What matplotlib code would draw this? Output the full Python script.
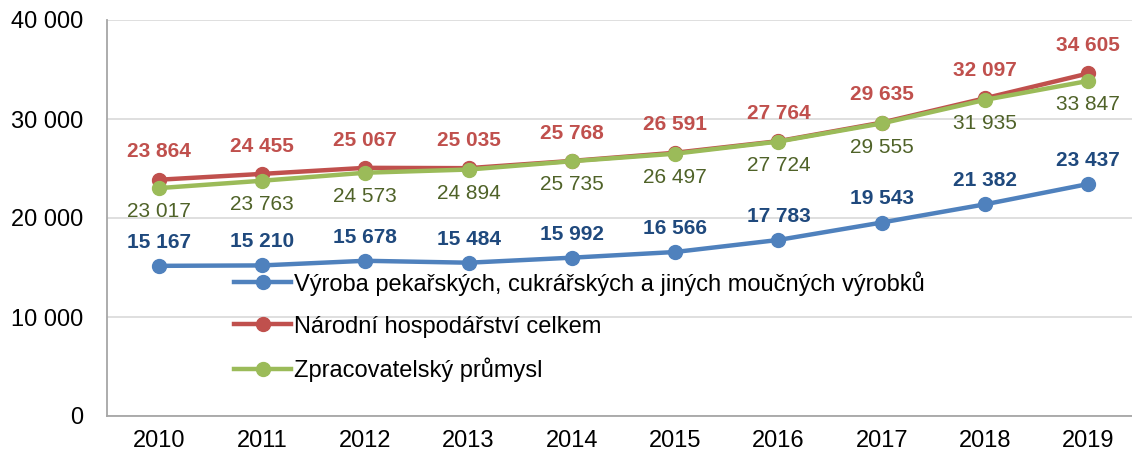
import numpy as np
import matplotlib.pyplot as plt
from matplotlib.ticker import FuncFormatter

plt.rcParams['font.family'] = ['Liberation Sans', 'DejaVu Sans']

years = ['2010', '2011', '2012', '2013', '2014', '2015', '2016', '2017', '2018', '2019']
pekarstvi = [15167, 15210, 15678, 15484, 15992, 16566, 17783, 19543, 21382, 23437]
narodni = [23864, 24455, 25067, 25035, 25768, 26591, 27764, 29635, 32097, 34605]
zpracovatelsky = [23017, 23763, 24573, 24894, 25735, 26497, 27724, 29555, 31935, 33847]

labels = ['Výroba pekařských, cukrářských a jiných moučných výrobků',
          'Národní hospodářství celkem',
          'Zpracovatelský průmysl']


def fmt(v):
    return f'{v:,.0f}'.replace(',', ' ')


fig = plt.figure(figsize=(11.32, 4.54), dpi=100)
ax = fig.add_axes([107 / 1132, 38 / 454, 1033 / 1132, 396 / 454])

x = np.arange(len(years))

# poradi kresleni: modra, cervena, zelena navrchu
ax.plot(x, pekarstvi, color='#4F81BD', lw=3.2, marker='o', ms=10, label=labels[0], zorder=3)
ax.plot(x, narodni, color='#C0504D', lw=3.2, marker='o', ms=10, label=labels[1], zorder=3)
ax.plot(x, zpracovatelsky, color='#9BBB59', lw=3.2, marker='o', ms=10, label=labels[2], zorder=4)

# popisky hodnot
for i in x:
    ax.annotate(fmt(pekarstvi[i]), (i, pekarstvi[i]), xytext=(0, 17), textcoords='offset points',
                ha='center', va='center', fontsize=15, fontweight='bold', color='#1F497D')
    ax.annotate(fmt(narodni[i]), (i, narodni[i]), xytext=(0, 20), textcoords='offset points',
                ha='center', va='center', fontsize=15, fontweight='bold', color='#C0504D')
    ax.annotate(fmt(zpracovatelsky[i]), (i, zpracovatelsky[i]), xytext=(0, -17), textcoords='offset points',
                ha='center', va='center', fontsize=15, color='#4F6228')

ax.set_xlim(-0.5, len(years) - 0.5)
ax.set_ylim(0, 40000)
ax.set_yticks([0, 10000, 20000, 30000, 40000])
ax.yaxis.set_major_formatter(FuncFormatter(lambda v, p: fmt(v)))
ax.set_xticks(x)
ax.set_xticklabels(years)
ax.tick_params(axis='both', labelsize=17, length=0, colors='black')
ax.tick_params(axis='y', pad=17)
ax.tick_params(axis='x', pad=10)

ax.grid(axis='y', color='#D9D9D9', lw=1.2)
ax.set_axisbelow(True)
for s in ['top', 'right']:
    ax.spines[s].set_visible(False)
ax.spines['left'].set_color('#A6A6A6')
ax.spines['bottom'].set_color('#A6A6A6')
ax.spines['left'].set_linewidth(1.3)
ax.spines['bottom'].set_linewidth(1.3)

ax.legend(loc='upper left', bbox_to_anchor=(0.114, 0.39), frameon=False, fontsize=17,
          handlelength=2.4, handletextpad=0.15, labelspacing=0.85, borderaxespad=0)

fig.savefig('out.png', dpi=100)
